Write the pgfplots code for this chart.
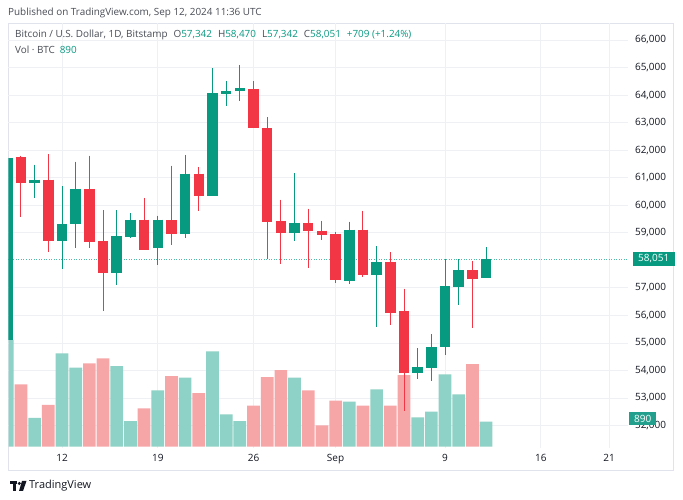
\documentclass[border=0pt]{standalone}
\usepackage{pgfplots}
\pgfplotsset{compat=1.18}
\usepackage{pgfplotstable}
\usepackage{fontspec}
\setmainfont{Open Sans}
\definecolor{up}{HTML}{089981}
\definecolor{dn}{HTML}{F23645}
\definecolor{vup}{HTML}{8ED1C6}
\definecolor{vdn}{HTML}{F7A6A8}
\definecolor{vlab}{HTML}{22A08D}
\definecolor{gridc}{HTML}{EEF0F4}
\definecolor{txt}{HTML}{131722}
\definecolor{hdr}{HTML}{4A4D57}
\definecolor{framec}{HTML}{E0E3EB}

% up candles: day (Aug numbering, Sep n = 31+n), open, high, low, close
\pgfplotstableread{
d o h l c
8 55100 62700 54700 61720
10 60810 61470 60275 60930
12 58690 60685 57690 59320
13 59320 61580 58450 60590
16 57530 59815 57100 58870
17 58850 59700 58800 59480
19 58450 59620 57840 59480
21 58960 61830 58815 61145
23 60350 64975 60350 64070
24 64055 64515 63585 64150
25 64130 65095 63800 64250
29 59000 61170 58690 59360
33 57260 59405 57125 59115
35 57460 58510 55575 57945
38 53900 54805 53705 54130
39 54100 55310 53620 54850
40 54850 58030 54560 57065
41 57040 58030 56375 57640
43 57342 58470 57342 58051
}\upc

\pgfplotstableread{
d o h l c
9 61736 61800 59562 60808
11 60930 61860 58300 58690
14 60590 61800 58450 58670
15 58690 59815 56160 57530
18 59480 60265 58390 58390
20 59450 61435 58540 58960
22 61145 61390 59780 60350
26 64225 64515 62800 62800
27 62800 63200 58065 59395
28 59420 60200 57875 59000
30 59360 59880 57705 59055
31 59080 59430 58755 58935
32 58970 59030 57185 57280
34 59115 59805 57390 57460
36 57945 58295 55640 56100
37 56160 56970 52535 53925
42 57640 57970 55555 57305
}\dnc

\pgfplotstableread{
d v
8 3800
10 1030
12 3320
13 2812
16 2872
17 914
19 2006
21 2456
23 3394
24 1151
25 914
29 2456
33 1602
35 2041
38 1044
39 1246
40 2575
41 1863
43 890
}\vupt

\pgfplotstableread{
d v
9 2220
11 1485
14 2967
15 3145
18 1365
20 2516
22 1911
26 1460
27 2480
28 2730
30 2006
31 760
32 1638
34 1460
36 1460
37 2552
42 2943
}\vdnt

\pgfplotsset{
  base/.style={
    at={(8.5pt,52pt)}, anchor=south west,
    width=619.5pt, height=425pt, scale only axis,
    xmin=8.089, xmax=53.374,
    axis line style={draw=none},
    major tick length=0pt, minor tick length=0pt,
    scaled y ticks=false,
    tick label style={font=\fontsize{10}{12}\selectfont, text=txt},
    /pgf/number format/assume math mode=true,
    /pgf/number format/1000 sep={,},
  },
  price/.style={base, ymin=51185, ymax=66617},
}

\begin{document}
\begin{tikzpicture}[x=1pt,y=1pt]
\fill[white] (0,0) rectangle (683,500);
\draw[framec, line width=0.8pt] (8,30) rectangle (673,477);

% layer 1: grid, tick labels, last-price line
\begin{axis}[price,
  ytick={52000,53000,54000,55000,56000,57000,59000,60000,61000,62000,63000,64000,65000,66000},
  yticklabel pos=right,
  yticklabel style={anchor=west, xshift=3.5pt},
  xtick={12,19,26,32,40,47,52},
  xticklabels={12,19,26,Sep,9,16,21},
  xticklabel style={yshift=-3pt},
  grid=major, grid style={gridc, line width=0.8pt},
  extra y ticks={58051},
  extra y tick style={grid=none, yticklabel style={fill=up, text=white, anchor=west, xshift=1pt, inner xsep=5.5pt, inner ysep=2.5pt}},
]
\addplot[up!70, line width=0.8pt, dash pattern=on 1pt off 1.5pt] coordinates {(8.089,58051) (53.374,58051)};
\end{axis}

% layer 2: volume
\begin{axis}[base, ymin=-46, ymax=15084,
  xtick=\empty, ytick=\empty,
  yticklabel pos=right,
  extra y ticks={890},
  extra y tick style={yticklabel style={fill=vlab, text=white, anchor=west, xshift=1pt, inner xsep=5pt, inner ysep=3pt, yshift=3pt}},
]
\addplot[ybar, bar width=12.7pt, bar shift=0pt, fill=vup, draw=none] table[x=d, y=v] {\vupt};
\addplot[ybar, bar width=12.7pt, bar shift=0pt, fill=vdn, draw=none] table[x=d, y=v] {\vdnt};
\end{axis}

% layer 3: candles
\begin{axis}[price, xtick=\empty, ytick=\empty]
\addplot[draw=none, forget plot, error bars/.cd, y dir=minus, y explicit, error mark=none,
  error bar style={draw=up, line width=1pt}]
  table[x=d, y=h, y error expr=\thisrow{h}-\thisrow{l}] {\upc};
\addplot[draw=none, forget plot, error bars/.cd, y dir=minus, y explicit, error mark=none,
  error bar style={draw=up, line width=10.5pt}]
  table[x=d, y=c, y error expr=\thisrow{c}-\thisrow{o}] {\upc};
\addplot[draw=none, forget plot, error bars/.cd, y dir=minus, y explicit, error mark=none,
  error bar style={draw=dn, line width=1pt}]
  table[x=d, y=h, y error expr=\thisrow{h}-\thisrow{l}] {\dnc};
\addplot[draw=none, forget plot, error bars/.cd, y dir=minus, y explicit, error mark=none,
  error bar style={draw=dn, line width=10.5pt}]
  table[x=d, y=o, y error expr=\thisrow{o}-\thisrow{c}] {\dnc};
\end{axis}

% header and legend texts
\node[anchor=west, inner sep=0, text=hdr, font=\fontsize{9.9}{12}\selectfont] at (8,487) {Published on TradingView.com, Sep 12, 2024 11:36 UTC};
\node[anchor=west, inner sep=0, text=hdr, font=\fontsize{9.9}{12}\selectfont] at (15,465) {Bitcoin / U.S. Dollar, 1D, Bitstamp\hspace{6pt}O\textcolor{up}{57,342}\hspace{6pt}H\textcolor{up}{58,470}\hspace{6pt}L\textcolor{up}{57,342}\hspace{6pt}C\textcolor{up}{58,051}\hspace{6pt}\textcolor{up}{+709 (+1.24\%)}};
\node[anchor=west, inner sep=0, text=hdr, font=\fontsize{9.9}{12}\selectfont] at (15,450) {Vol · BTC\hspace{5pt}\textcolor{up}{890}};

% footer logo
\fill[txt] (10,16) rectangle (17,19);
\fill[txt] (13,9) rectangle (16,19);
\fill[txt] (19.3,16.5) circle (1.7);
\fill[txt] (22,19) -- (26.5,19) -- (23,9) -- (19,9) -- cycle;
\node[anchor=west, inner sep=0, text=txt, font=\fontsize{11}{12}\selectfont] at (29,14) {TradingView};
\end{tikzpicture}
\end{document}
